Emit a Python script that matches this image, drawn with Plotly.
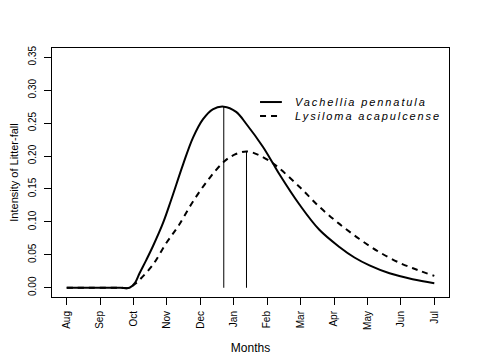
import plotly.graph_objects as go

month_labels = ["Aug", "Sep", "Oct", "Nov", "Dec", "Jan", "Feb", "Mar", "Apr", "May", "Jun", "Jul"]
month_pos = list(range(12))

vachellia_x = [0, 1.0, 1.6, 1.88, 2.05, 2.18, 2.38, 2.58, 2.88, 3.13, 3.48, 3.78, 4.08, 4.37, 4.70, 5.07, 5.37,
               5.87, 6.17, 6.37, 6.97, 7.56, 8.16, 8.61, 9.06, 9.66, 10.35, 11.0]
vachellia_y = [0, 0, 0, 0, 0.008, 0.022, 0.042, 0.063, 0.098, 0.134, 0.187, 0.228, 0.256, 0.271, 0.275, 0.267, 0.249,
               0.214, 0.189, 0.172, 0.126, 0.088, 0.062, 0.046, 0.034, 0.022, 0.013, 0.007]

lysiloma_x = [0, 1.0, 1.6, 1.88, 2.05, 2.18, 2.58, 2.98, 3.33, 3.78, 4.28, 4.72, 5.02, 5.38, 5.77, 6.17, 6.37,
              6.97, 7.56, 8.16, 8.76, 9.36, 10.0, 10.5, 11.0]
lysiloma_y = [0, 0, 0, 0, 0.006, 0.012, 0.035, 0.068, 0.093, 0.131, 0.167, 0.192, 0.202, 0.207, 0.201, 0.189, 0.181,
              0.153, 0.123, 0.097, 0.074, 0.054, 0.037, 0.027, 0.018]

peak_x = [4.70, 5.38]
peak_y = [0.275, 0.207]

y_ticks = [0.00, 0.05, 0.10, 0.15, 0.20, 0.25, 0.30, 0.35]

series_names = ["Vachellia pennatula", "Lysiloma acapulcense"]

fig = go.Figure()
fig.add_trace(go.Scatter(x=vachellia_x, y=vachellia_y, mode="lines", name=series_names[0],
                         line=dict(color="black", width=2, shape="spline", smoothing=1.0)))
fig.add_trace(go.Scatter(x=lysiloma_x, y=lysiloma_y, mode="lines", name=series_names[1],
                         line=dict(color="black", width=2, dash="6px,5px", shape="spline", smoothing=1.0)))
for px_, py_ in zip(peak_x, peak_y):
    fig.add_trace(go.Scatter(x=[px_, px_], y=[0, py_], mode="lines", showlegend=False,
                             line=dict(color="black", width=1)))

# legend drawn R-style (no box) inside the plot
leg_rows = [0.783, 0.727]
leg_dash = ["solid", "6px,5px"]
for name, yy, dd in zip(series_names, leg_rows, leg_dash):
    fig.add_shape(type="line", xref="paper", yref="paper", x0=0.524, x1=0.579, y0=yy, y1=yy,
                  line=dict(color="black", width=2, dash=dd))
    fig.add_annotation(xref="paper", yref="paper", x=0.607, y=yy, xanchor="left", yanchor="middle",
                       showarrow=False,
                       text=f'<span style="letter-spacing:1.9px">{name}</span>',
                       font=dict(family="Liberation Sans, Arial, sans-serif", size=11, style="italic",
                                 color="black"))

# page body has an 8px margin, so the figure is 8px smaller and margins shifted
fig.update_layout(
    width=470, height=350,
    margin=dict(l=44, r=29, t=40, b=61),
    paper_bgcolor="white", plot_bgcolor="white",
    font=dict(family="Liberation Sans, Arial, sans-serif", color="black", size=10),
    showlegend=False,
)
fig.update_xaxes(range=[-0.44, 11.44], tickvals=month_pos, ticktext=month_labels, tickangle=-90,
                 ticks="outside", ticklen=7, tickcolor="black", showline=True, linecolor="black",
                 linewidth=1, mirror=True, showgrid=False, zeroline=False, automargin=False,
                 ticklabelstandoff=2,
                 title=dict(text="Months", font=dict(size=12), standoff=14))
fig.update_yaxes(range=[-0.014, 0.364], tickvals=y_ticks, ticktext=[f"{v:.2f}" for v in y_ticks],
                 tickangle=-90, ticks="outside", ticklen=7, tickcolor="black", showline=True,
                 linecolor="black", linewidth=1, mirror=True, showgrid=False, zeroline=False,
                 automargin=False, ticklabelstandoff=4,
                 title=dict(text="Intensity of Litter-fall", font=dict(size=11), standoff=9))

fig.write_html("out.html")
